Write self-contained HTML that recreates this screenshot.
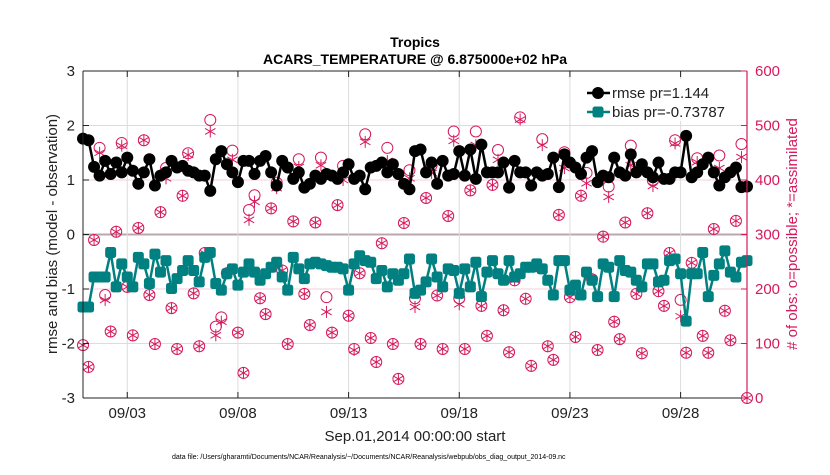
<!DOCTYPE html>
<html><head><meta charset="utf-8"><style>
body{margin:0;background:#fff;}
svg{font-family:"Liberation Sans",Arial,sans-serif;}
</style></head><body>
<svg id="chart" width="830" height="470" xmlns="http://www.w3.org/2000/svg">
<rect width="830" height="470" fill="#fff"/>
<g id="grid"></g>
<g id="marks"></g>
<g id="axes"></g>
</svg>
<script>
const xTickLabels=["09/03","09/08","09/13","09/18","09/23","09/28"];
const xTickDays=[3,8,13,18,23,28];
const yLeftTicks=[-3,-2,-1,0,1,2,3];
const yRightTicks=[0,100,200,300,400,500,600];
const startDay=1, stepDay=0.25;
const rmse=[1.76,1.73,1.24,1.08,1.35,1.11,1.32,1.14,1.41,1.17,0.93,1.14,1.38,0.90,1.08,1.14,1.35,1.23,1.26,1.17,1.14,1.08,1.08,0.80,1.38,1.53,1.29,1.14,0.96,1.35,1.35,1.11,
1.35,1.44,1.14,0.90,1.35,1.23,1.02,1.14,0.86,0.93,1.08,1.02,1.11,1.08,1.02,1.14,1.29,1.02,1.08,0.83,1.23,1.26,1.32,1.14,1.29,1.11,0.93,0.83,1.53,1.56,
1.14,1.32,0.93,1.35,1.08,1.11,1.53,1.08,1.56,1.02,1.65,1.14,1.14,1.14,1.32,0.86,1.35,1.14,1.14,0.90,1.14,1.08,1.11,1.41,0.87,1.47,1.32,1.23,1.11,1.41,1.53,
0.96,1.08,1.05,1.41,1.14,1.08,1.47,1.14,1.29,1.14,1.05,1.32,1.02,1.02,1.14,1.14,1.81,1.05,1.14,1.29,1.41,1.14,0.90,1.05,1.14,1.23,0.87,0.88];
const bias=[-1.33,-1.33,-0.78,-0.78,-0.78,-0.33,-0.96,-0.54,-0.78,-0.96,-0.42,-0.54,-0.90,-0.36,-0.69,-0.48,-0.99,-0.81,-0.66,-0.48,-0.66,-0.87,-0.42,-0.33,-0.90,-1.02,-0.72,-0.63,-0.93,-0.69,
-0.54,-0.69,-0.84,-0.72,-0.60,-0.51,-0.78,-1.02,-0.42,-0.63,-0.81,-0.54,-0.51,-0.54,-0.57,-0.60,-0.60,-0.63,-1.02,-0.54,-0.39,-0.48,-0.51,-0.81,-0.66,-0.96,-0.72,-0.84,-0.72,-0.45,-1.08,
-1.02,-0.87,-0.45,-0.78,-0.96,-0.63,-0.66,-1.08,-0.63,-0.96,-0.51,-1.14,-0.69,-0.48,-0.72,-0.84,-0.48,-0.78,-0.72,-0.60,-0.60,-0.54,-0.63,-0.84,-1.11,-0.48,-0.48,-1.02,-0.93,-1.11,-0.69,
-0.84,-1.14,-0.54,-0.60,-1.14,-0.48,-0.66,-0.69,-0.84,-0.96,-0.54,-0.54,-0.87,-0.84,-0.48,-0.45,-0.72,-1.59,-0.72,-0.72,-0.33,-1.14,-0.75,-0.54,-0.30,-0.69,-0.78,-0.51,-0.48];
const possible=[97,57,290,459,189,122,305,468,204,115,312,473,189,99,341,422,165,90,371,449,192,95,266,510,131,148,229,454,120,46,
345,372,183,154,348,395,234,99,324,438,191,134,322,441,185,120,354,426,151,90,229,484,110,66,284,459,99,35,321,418,183,99,
367,427,188,90,334,489,183,90,381,489,169,114,391,455,161,84,216,515,182,59,242,475,95,70,336,451,185,112,371,413,218,
88,296,388,140,108,322,463,191,82,339,399,196,169,266,473,180,83,248,440,114,83,310,445,160,106,325,466,0];
const assimilated=[97,57,290,450,180,122,305,463,204,115,312,473,189,99,341,403,165,90,371,446,192,95,266,489,115,140,229,437,120,46,
327,360,183,154,348,385,234,99,324,424,191,134,322,427,158,120,354,400,151,88,229,470,110,66,284,435,99,35,321,403,167,99,
367,413,188,90,334,472,172,90,381,464,169,114,391,437,161,84,216,511,182,59,242,464,95,70,336,422,185,112,371,394,218,
88,296,369,140,108,322,427,191,82,339,389,196,169,266,467,150,83,248,433,114,83,310,422,160,106,325,442,0];

const L=83,R=747,T=71,B=398, MAG="#d6195c", TEAL="#008080";
const xS=d=>L+(d-1)/30*(R-L);
const yL=v=>B-(v+3)/6*(B-T);
const yR=v=>B-v/600*(B-T);
const NS="http://www.w3.org/2000/svg";
function mk(tag,attrs,parent,txt){const e=document.createElementNS(NS,tag);for(const k in attrs)e.setAttribute(k,attrs[k]);if(txt!==undefined)e.textContent=txt;parent.appendChild(e);return e;}
const grid=document.getElementById('grid'),marks=document.getElementById('marks'),axes=document.getElementById('axes');

yRightTicks.forEach(v=>{if(v>0&&v<600){const g=mk('line',{x1:L,x2:R,y1:yR(v),y2:yR(v),stroke:v===300?'#b8a8ac':'#f4cfdc','stroke-width':v===300?2:1},grid);

}});
xTickDays.forEach(d=>{const g=mk('line',{x1:xS(d),x2:xS(d),y1:T,y2:B,stroke:'#dcdcdc','stroke-width':1},grid);

});

const xs=rmse.map((_,i)=>xS(startDay+i*stepDay));
// counts
possible.forEach((v,i)=>{const c=mk('circle',{cx:xs[i],cy:yR(v),r:5.5,fill:'none',stroke:MAG,'stroke-width':1},marks);

});
assimilated.forEach((v,i)=>{const g=mk('g',{transform:`translate(${xs[i]},${yR(v)})`,stroke:MAG,'stroke-width':1},marks);


mk('line',{x1:0,x2:0,y1:-6,y2:6},g);mk('line',{x1:-5.2,x2:5.2,y1:-3,y2:3},g);mk('line',{x1:-5.2,x2:5.2,y1:3,y2:-3},g);});
// bias
const bp=mk('polyline',{points:bias.map((v,i)=>xs[i]+','+yL(v)).join(' '),fill:'none',stroke:TEAL,'stroke-width':2.5},marks);


bias.forEach((v,i)=>{const s=mk('rect',{x:xs[i]-5.5,y:yL(v)-5.5,width:11,height:11,rx:2.5,fill:TEAL},marks);

});
// rmse
const rp=mk('polyline',{points:rmse.map((v,i)=>xs[i]+','+yL(v)).join(' '),fill:'none',stroke:'#000','stroke-width':2.5},marks);


rmse.forEach((v,i)=>{const c=mk('circle',{cx:xs[i],cy:yL(v),r:6,fill:'#000'},marks);

});

// axes frame
mk('line',{x1:L,x2:R,y1:T,y2:T,stroke:'#222','stroke-width':1},axes);
mk('line',{x1:L,x2:R,y1:B,y2:B,stroke:'#222','stroke-width':1},axes);
mk('line',{x1:L,x2:L,y1:T,y2:B,stroke:'#222','stroke-width':1},axes);
mk('line',{x1:R,x2:R,y1:T,y2:B,stroke:MAG,'stroke-width':1.2},axes);
yLeftTicks.forEach(v=>{mk('line',{x1:L,x2:L+6,y1:yL(v),y2:yL(v),stroke:'#222'},axes);
const t=mk('text',{x:L-8,y:yL(v)+5,'text-anchor':'end','font-size':15,fill:'#222'},axes,String(v));

});
yRightTicks.forEach(v=>{mk('line',{x1:R-6,x2:R,y1:yR(v),y2:yR(v),stroke:MAG},axes);
const t=mk('text',{x:R+8,y:yR(v)+5,'text-anchor':'start','font-size':15,fill:MAG},axes,String(v));

});
xTickDays.forEach((d,i)=>{mk('line',{x1:xS(d),x2:xS(d),y1:B-6,y2:B,stroke:'#222'},axes);mk('line',{x1:xS(d),x2:xS(d),y1:T,y2:T+6,stroke:'#222'},axes);
const t=mk('text',{x:xS(d),y:B+20,'text-anchor':'middle','font-size':15,fill:'#222'},axes,xTickLabels[i]);

});
</script>
<svg style="position:absolute;left:0;top:0" width="830" height="470" xmlns="http://www.w3.org/2000/svg" font-family="Liberation Sans, Arial, sans-serif">
<text x="415" y="47" text-anchor="middle" font-size="14" font-weight="bold" fill="#000">Tropics</text>
<text x="415" y="64" text-anchor="middle" font-size="14" font-weight="bold" fill="#000">ACARS_TEMPERATURE @ 6.875000e+02 hPa</text>
<text transform="translate(57,234) rotate(-90)" text-anchor="middle" font-size="15" fill="#222">rmse and bias (model - observation)</text>
<text transform="translate(797,234) rotate(-90)" text-anchor="middle" font-size="15" fill="#d6195c"># of obs: o=possible; *=assimilated</text>
<text x="415" y="441" text-anchor="middle" font-size="15" fill="#222">Sep.01,2014 00:00:00 start</text>
<text x="172" y="459" font-size="7" fill="#000">data file: /Users/gharamti/Documents/NCAR/Reanalysis/~/Documents/NCAR/Reanalysis/webpub/obs_diag_output_2014-09.nc</text>
<g>
<rect x="583" y="79" width="160" height="42" fill="#fff"/>
<line x1="587" y1="93" x2="610" y2="93" stroke="#000" stroke-width="2.5"/><circle cx="598" cy="93" r="6" fill="#000"/>
<text x="612" y="98" font-size="15" fill="#222">rmse pr=1.144</text>
<line x1="587" y1="112" x2="610" y2="112" stroke="#008080" stroke-width="2.5"/><rect x="592.5" y="106.5" width="11" height="11" rx="2.5" fill="#008080"/>
<text x="612" y="117" font-size="15" fill="#222">bias pr=-0.73787</text>
</g>
</svg>
</body></html>
